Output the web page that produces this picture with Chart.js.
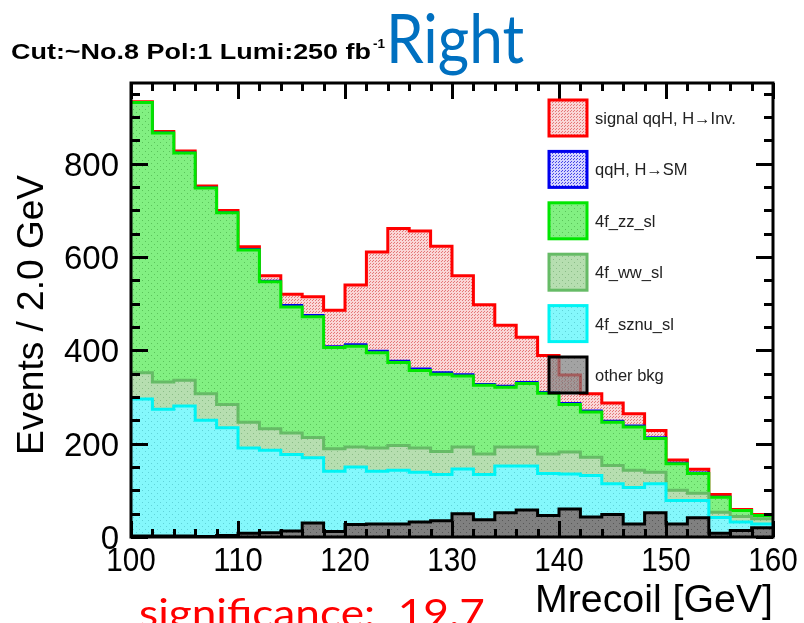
<!DOCTYPE html>
<html>
<head>
<meta charset="utf-8">
<script src="https://cdn.jsdelivr.net/npm/chart.js@4.4.1/dist/chart.umd.min.js"></script>
<style>
	html, body { margin: 0; padding: 0; background: #ffffff; }
	#wrap { width: 804px; height: 623px; position: relative; overflow: hidden; }
</style>
</head>
<body>
<div id="wrap"><canvas id="cntx_mrecoil" width="804" height="623"></canvas></div>
<script>
// binning of the recoil mass histogram
const binLow = 100;
const binWidth = 2.0;
const binHigh = 160;

// events per bin for each sample, stacked bottom to top
const other_bkg = [2, 2, 2, 1, 3, 8, 9, 13, 30, 12, 27, 28, 28, 32, 35, 50, 37, 52, 58, 46, 60, 43, 48, 28, 52, 28, 41, 8, 14, 20];
const sznu_sl = [294, 272, 279, 249, 231, 183, 177, 164, 140, 129, 123, 113, 115, 107, 99, 96, 97, 100, 94, 90, 75, 89, 66, 78, 62, 50, 37, 34, 18, 8];
const ww_sl = [56, 58, 55, 57, 50, 55, 46, 46, 43, 48, 43, 50, 53, 52, 49, 47, 44, 41, 41, 42, 47, 39, 39, 37, 25, 22, 16, 11, 12, 11];
const zz_sl = [579, 534, 487, 441, 411, 369, 315, 270, 259, 217, 216, 204, 178, 166, 166, 152, 147, 128, 136, 130, 102, 97, 93, 93, 72, 57, 42, 32, 13, 7];
const qqh_sm = [1, 1, 1, 1, 1, 2, 2, 4, 4, 3, 4, 4, 4, 4, 4, 4, 3, 3, 3, 3, 3, 3, 3, 3, 3, 2, 2, 1, 1, 1];
const qqh_inv = [1, 2, 3, 3, 4, 5, 11, 23, 39, 77, 127, 212, 283, 295, 270, 211, 170, 130, 96, 78, 60, 36, 38, 25, 14, 6, 7, 5, 1, 1];

const sample_names = ["other bkg", "4f_sznu_sl", "4f_ww_sl", "4f_zz_sl", "qqH, H\u2192SM", "signal qqH, H\u2192Inv."];
const y_tick_labels = [0, 200, 400, 600, 800];
const x_tick_labels = [100, 110, 120, 130, 140, 150, 160];

const yMax = 973;

// line colour and dotted fill for each sample
const sample_styles = [
	{ line: "#000000", width: 3, base: [128, 128, 128], dot: [88, 88, 88] },
	{ line: "#00f4f4", width: 3, base: [132, 248, 252], dot: [95, 210, 216] },
	{ line: "#66bb66", width: 3, base: [182, 222, 176], dot: [138, 188, 135] },
	{ line: "#00e600", width: 3, base: [130, 240, 130], dot: [90, 195, 90] },
	{ line: "#0000ee", width: 2, base: [212, 212, 255], dot: [70, 70, 230] },
	{ line: "#ff0000", width: 3, base: [250, 214, 214], dot: [228, 120, 120] },
];

makePattern = (base, dot, fine) => {
	const c = document.createElement("canvas");
	const n = fine ? 3 : 6;
	c.width = n;
	c.height = n;
	const g = c.getContext("2d");
	g.fillStyle = "rgb(" + base.join(",") + ")";
	g.fillRect(0, 0, n, n);
	g.fillStyle = "rgb(" + dot.join(",") + ")";
	if (fine) {
		g.fillRect(0, 0, 1, 1);
		g.fillRect(1, 2, 1, 1);
	} else {
		g.fillRect(1, 1, 1, 1);
		g.fillRect(4, 4, 1, 1);
	}
	return g.createPattern(c, "repeat");
};

// one point per lower bin edge, plus the upper edge of the last bin
toSteps = (values) => {
	const pts = values.map((v, i) => ({ x: binLow + i * binWidth, y: v }));
	pts.push({ x: binHigh, y: values[values.length - 1] });
	return pts;
};

const samples = [other_bkg, sznu_sl, ww_sl, zz_sl, qqh_sm, qqh_inv];
const patterns = sample_styles.map((s, i) => makePattern(s.base, s.dot, i >= 4));

const datasets = samples.map((vals, i) => ({
	label: sample_names[i],
	data: toSteps(vals),
	stepped: true,
	fill: "origin",
	backgroundColor: patterns[i],
	borderColor: sample_styles[i].line,
	borderWidth: sample_styles[i].width,
	pointRadius: 0,
}));

fitText = (ctx, text, x, y, font, width, align) => {
	ctx.save();
	ctx.font = font;
	const w = ctx.measureText(text).width;
	ctx.translate(x, y);
	ctx.scale(width ? width / w : 1, 1);
	ctx.textAlign = align || "left";
	ctx.textBaseline = "alphabetic";
	ctx.fillText(text, 0, 0);
	ctx.restore();
};

// ROOT style frame, ticks on all four sides, legend and labels
const rootFrame = {
	id: "rootFrame",
	afterDatasetsDraw(chart) {
		const ctx = chart.ctx;
		const a = chart.chartArea;
		const xs = chart.scales.x;
		const ys = chart.scales.y;
		ctx.save();
		ctx.strokeStyle = "#000";
		ctx.lineWidth = 3;
		ctx.lineCap = "butt";

		ctx.beginPath();
		for (let v = 0; v < yMax; v += 50) {
			const y = Math.round(ys.getPixelForValue(v)) + 0.5;
			const len = v % 200 === 0 ? 17 : 9;
			ctx.moveTo(a.left, y);
			ctx.lineTo(a.left + len, y);
			ctx.moveTo(a.right, y);
			ctx.lineTo(a.right - len, y);
		}
		for (let v = binLow; v <= binHigh; v += binWidth) {
			const x = Math.round(xs.getPixelForValue(v)) + 0.5;
			const len = v % 10 === 0 ? 16 : 8;
			ctx.moveTo(x, a.bottom);
			ctx.lineTo(x, a.bottom - len);
			ctx.moveTo(x, a.top);
			ctx.lineTo(x, a.top + len);
		}
		ctx.stroke();
		ctx.strokeRect(a.left, a.top, a.right - a.left, a.bottom - a.top);

		// legend
		const rows = sample_names.length;
		for (let k = 0; k < rows; k++) {
			const i = rows - 1 - k;
			const cy = 118 + k * 51.4;
			const st = sample_styles[i];
			ctx.globalAlpha = i === 0 ? 0.72 : 1;
			ctx.fillStyle = patterns[i];
			ctx.fillRect(549, cy - 18, 38, 36);
			ctx.globalAlpha = 1;
			ctx.strokeStyle = st.line;
			ctx.lineWidth = 3;
			ctx.strokeRect(549, cy - 18, 38, 36);
			ctx.fillStyle = "#222";
			fitText(ctx, sample_names[i], 595, cy + 6, "16.5px 'Liberation Sans', Arial, sans-serif");
		}

		// tick labels
		ctx.fillStyle = "#000";
		y_tick_labels.forEach((v) => {
			fitText(ctx, String(v), 119, ys.getPixelForValue(v) + 12, "33px 'Liberation Sans', Arial, sans-serif", null, "right");
		});
		x_tick_labels.forEach((v) => {
			const s = String(v);
			fitText(ctx, s, xs.getPixelForValue(v), 571, "33px 'Liberation Sans', Arial, sans-serif", 16.5 * s.length, "center");
		});

		// axis titles
		ctx.save();
		ctx.translate(43, 315);
		ctx.rotate(-Math.PI / 2);
		fitText(ctx, "Events / 2.0 GeV", 0, 0, "36px 'Liberation Sans', Arial, sans-serif", 280, "center");
		ctx.restore();
		fitText(ctx, "Mrecoil [GeV]", a.right, 612, "38px 'Liberation Sans', Arial, sans-serif", 238, "right");

		// header
		fitText(ctx, "Cut:~No.8 Pol:1 Lumi:250 fb", 11, 59, "bold 22px 'Liberation Sans', Arial, sans-serif", 360);
		fitText(ctx, "-1", 373, 48, "bold 13px 'Liberation Sans', Arial, sans-serif", 12);
		ctx.fillStyle = "#0070c0";
		fitText(ctx, "Right", 386, 63, "68px Lato, 'Open Sans', sans-serif", 138);
		ctx.fillStyle = "#ff0000";
		fitText(ctx, "significance:  19.7", 139, 627, "38px Lato, 'Open Sans', sans-serif", 346);
		ctx.restore();
	},
};

new Chart(document.querySelector("#cntx_mrecoil"), {
	type: "line",
	data: { datasets: datasets },
	options: {
		responsive: false,
		animation: false,
		layout: { padding: { left: 131, right: 31, top: 83, bottom: 86 } },
		elements: { line: { tension: 0, borderJoinStyle: "miter" } },
		plugins: {
			legend: { display: false },
			tooltip: { enabled: false },
			filler: { propagate: false, drawTime: "beforeDatasetDraw" },
		},
		scales: {
			x: { type: "linear", min: binLow, max: binHigh, display: false },
			y: { stacked: true, min: 0, max: yMax, display: false },
		},
	},
	plugins: [rootFrame],
});
</script>
</body>
</html>
